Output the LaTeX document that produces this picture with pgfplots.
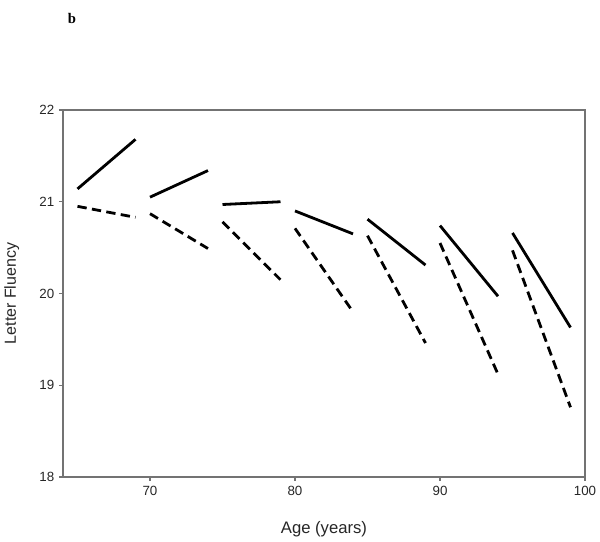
\documentclass[border=0pt]{standalone}
\usepackage{pgfplots}
\pgfplotsset{compat=1.18}
\usepackage{fontspec}
\setmainfont{Liberation Sans}
\newfontfamily\seriffont{Liberation Serif}

\begin{document}
\begin{tikzpicture}
\useasboundingbox (0,0) rectangle (450pt,406.5pt);
\node[font=\seriffont\bfseries\fontsize{11}{13}\selectfont] at (54pt,393pt) {b};
\begin{axis}[
    at={(47.25pt,48.75pt)}, anchor=south west,
    scale only axis, width=391.5pt, height=275.25pt,
    xmin=64, xmax=100, ymin=18, ymax=22,
    xtick={70,80,90,100}, ytick={18,19,20,21,22},
    tick align=outside, tick pos=left,
    major tick length=3pt,
    axis line style={draw=gray!90!black, line width=0.9pt},
    every tick/.style={draw=gray!90!black, line width=0.8pt},
    tick label style={font=\fontsize{10}{12}\selectfont, text=black!85},
    /pgf/number format/assume math mode=true,
    xlabel={Age (years)}, ylabel={Letter Fluency},
    label style={text=black!85},
    xlabel style={font=\fontsize{12.5}{14}\selectfont, at={(axis description cs:0.5,-0.141)}, anchor=center},
    ylabel style={font=\fontsize{12}{14}\selectfont, at={(axis description cs:-0.098,0.5)}, anchor=center},
]
% solid segments
\addplot[black, line width=2.1pt] coordinates {(65,21.14) (69,21.68)};
\addplot[black, line width=2.1pt] coordinates {(70,21.05) (74,21.34)};
\addplot[black, line width=2.1pt] coordinates {(75,20.97) (79,21.00)};
\addplot[black, line width=2.1pt] coordinates {(80,20.90) (84,20.65)};
\addplot[black, line width=2.1pt] coordinates {(85,20.81) (89,20.31)};
\addplot[black, line width=2.1pt] coordinates {(90,20.74) (94,19.97)};
\addplot[black, line width=2.1pt] coordinates {(95,20.66) (99,19.63)};
% dashed segments
\addplot[black, line width=2.1pt, dash pattern=on 7pt off 4pt] coordinates {(65,20.95) (69,20.83)};
\addplot[black, line width=2.1pt, dash pattern=on 7pt off 4pt] coordinates {(70,20.87) (74,20.49)};
\addplot[black, line width=2.1pt, dash pattern=on 7pt off 4pt] coordinates {(75,20.78) (79,20.15)};
\addplot[black, line width=2.1pt, dash pattern=on 7pt off 4pt] coordinates {(80,20.71) (84,19.80)};
\addplot[black, line width=2.1pt, dash pattern=on 7pt off 4pt] coordinates {(85,20.63) (89,19.46)};
\addplot[black, line width=2.1pt, dash pattern=on 7pt off 4pt] coordinates {(90,20.55) (94,19.12)};
\addplot[black, line width=2.1pt, dash pattern=on 7pt off 4pt] coordinates {(95,20.47) (99,18.76)};
\end{axis}
\end{tikzpicture}
\end{document}
